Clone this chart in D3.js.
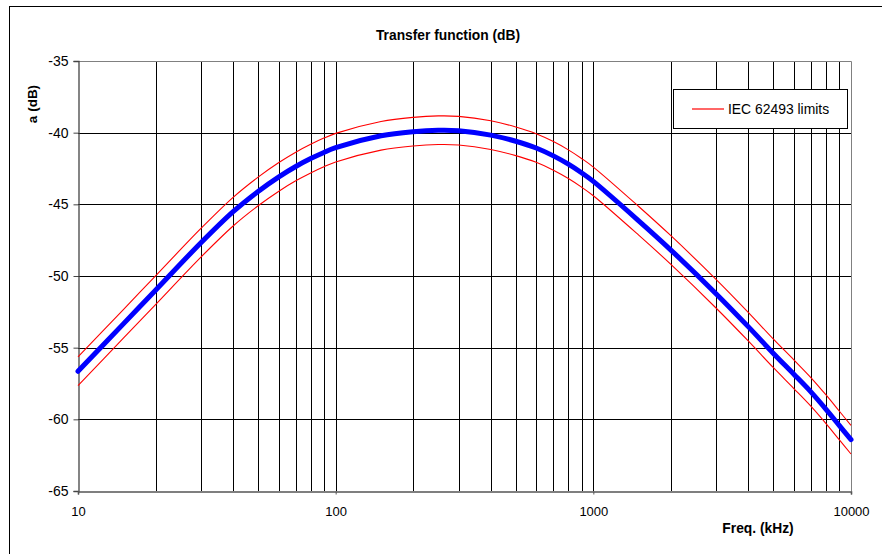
<!DOCTYPE html>
<html>
<head>
<meta charset="utf-8">
<script src="https://cdn.jsdelivr.net/npm/d3@7"></script>
<style>
  html, body { margin: 0; padding: 0; background: #fff; }
  svg { display: block; font-family: "Liberation Sans", Arial, sans-serif; }
</style>
</head>
<body>
<svg id="chart" width="882" height="554"></svg>
<script>
// ---- data ----
const freqs = [10, 15, 20, 30, 40, 50, 60, 70, 80, 90, 100, 150, 200, 250, 300, 400, 500, 600, 700, 800, 900, 1000, 1500, 2000, 3000, 4000, 5000, 6000, 7000, 8000, 9000, 10000];
const transfer = [-56.65, -53.34, -50.99, -47.68, -45.51, -44.1, -43.1, -42.36, -41.81, -41.38, -41.05, -40.22, -39.93, -39.83, -39.86, -40.17, -40.6, -41.07, -41.62, -42.2, -42.8, -43.4, -46.15, -48.19, -51.25, -53.55, -55.4, -56.85, -58.1, -59.3, -60.42, -61.42];
const upperLimit = [-55.65, -52.34, -49.99, -46.68, -44.51, -43.1, -42.1, -41.36, -40.81, -40.38, -40.05, -39.22, -38.93, -38.83, -38.86, -39.17, -39.6, -40.07, -40.62, -41.2, -41.8, -42.4, -45.15, -47.19, -50.25, -52.55, -54.4, -55.85, -57.1, -58.3, -59.42, -60.42];
const lowerLimit = [-57.65, -54.34, -51.99, -48.68, -46.51, -45.1, -44.1, -43.36, -42.81, -42.38, -42.05, -41.22, -40.93, -40.83, -40.86, -41.17, -41.6, -42.07, -42.62, -43.2, -43.8, -44.4, -47.15, -49.19, -52.25, -54.55, -56.4, -57.85, -59.1, -60.3, -61.42, -62.42];
const yTicks = [-35, -40, -45, -50, -55, -60, -65];
const xTickLabels = [10, 100, 1000, 10000];
const titleText = "Transfer function (dB)";
const yLabel = "a (dB)";
const xLabel = "Freq. (kHz)";
const legendLabel = "IEC 62493 limits";

// ---- layout ----
const svg = d3.select("#chart");
const L = 78, R = 851, T = 61, B = 491;

const x = d3.scaleLog().domain([10, 10000]).range([L, R]);
const y = d3.scaleLinear().domain([-65, -35]).range([B, T]);

// outer frame
svg.append("rect").attr("x", 9.5).attr("y", 6.5).attr("width", 900).attr("height", 600)
  .attr("fill", "#fff").attr("stroke", "#000").attr("stroke-width", 1);

// title
svg.append("text").attr("x", 448).attr("y", 40).attr("text-anchor", "middle")
  .attr("font-size", 13.8).attr("font-weight", "bold").text(titleText);

// plot area background
svg.append("rect").attr("x", L).attr("y", T).attr("width", R - L).attr("height", B - T).attr("fill", "#fff");

// vertical grid (log minors)
const vGrid = [];
for (let d = 10; d < 10000; d *= 10) for (let k = 1; k < 10; k++) vGrid.push(d * k);
svg.append("g").selectAll("line").data(vGrid.filter(v => v > 10 && v < 10000)).join("line")
  .attr("x1", d => Math.round(x(d)) + 0.5).attr("x2", d => Math.round(x(d)) + 0.5)
  .attr("y1", T).attr("y2", B)
  .attr("stroke", "#000").attr("stroke-width", 1);

// horizontal grid
svg.append("g").selectAll("line").data(yTicks.filter(v => v > -65 && v < -35)).join("line")
  .attr("x1", L).attr("x2", R)
  .attr("y1", d => Math.round(y(d)) + 0.5).attr("y2", d => Math.round(y(d)) + 0.5)
  .attr("stroke", "#000").attr("stroke-width", 1);

// plot border (top/right gray)
svg.append("path")
  .attr("d", `M${L},${Math.round(T) + 0.5}H${Math.round(R) + 0.5}V${B}`)
  .attr("fill", "none").attr("stroke", "#808080").attr("stroke-width", 1);

const fmt = d => String(d); // plain hyphen-minus like the reference

// y axis
const yAxis = svg.append("g").attr("transform", `translate(${L + 0.5},0)`)
  .call(d3.axisLeft(y).tickValues(yTicks).tickSize(5).tickPadding(5).tickFormat(fmt));
yAxis.select(".domain").attr("stroke", "#444").attr("stroke-width", 1.3);
yAxis.selectAll(".tick line").attr("stroke", "#444");
yAxis.selectAll("text").attr("font-size", 14).attr("font-family", "Liberation Sans, Arial, sans-serif").attr("fill", "#000");

// x axis
const xAxis = svg.append("g").attr("transform", `translate(0,${B + 0.5})`)
  .call(d3.axisBottom(x).tickValues(xTickLabels).tickSize(3).tickPadding(12).tickFormat(fmt));
xAxis.select(".domain").attr("stroke", "#555").attr("stroke-width", 1.6);
xAxis.selectAll(".tick line").attr("stroke", "#555");
xAxis.selectAll("text").attr("font-size", 13).attr("font-family", "Liberation Sans, Arial, sans-serif").attr("fill", "#000");

// axis labels
svg.append("text").attr("transform", "translate(37,104) rotate(-90)").attr("text-anchor", "middle")
  .attr("font-size", 13.5).attr("font-weight", "bold").text(yLabel);
svg.append("text").attr("x", 758).attr("y", 533).attr("text-anchor", "middle")
  .attr("font-size", 13.8).attr("font-weight", "bold").text(xLabel);

// lines
const line = (vals) => d3.line().x((d, i) => x(freqs[i])).y(d => y(d)).curve(d3.curveCatmullRom.alpha(0.5))(vals);
svg.append("path").attr("d", line(upperLimit)).attr("fill", "none").attr("stroke", "#ff0000").attr("stroke-width", 1.1);
svg.append("path").attr("d", line(lowerLimit)).attr("fill", "none").attr("stroke", "#ff0000").attr("stroke-width", 1.1);
svg.append("path").attr("d", line(transfer)).attr("fill", "none").attr("stroke", "#0000ff").attr("stroke-width", 5)
  .attr("stroke-linecap", "round");

// legend
const lg = svg.append("g");
lg.append("rect").attr("x", 673.5).attr("y", 89.5).attr("width", 174).attr("height", 39)
  .attr("fill", "#fff").attr("stroke", "#000").attr("stroke-width", 1);
lg.append("line").attr("x1", 692).attr("x2", 724).attr("y1", 109).attr("y2", 109)
  .attr("stroke", "#ff0000").attr("stroke-width", 1.2);
lg.append("text").attr("x", 728).attr("y", 114).attr("font-size", 13.9).text(legendLabel);
</script>
</body>
</html>
